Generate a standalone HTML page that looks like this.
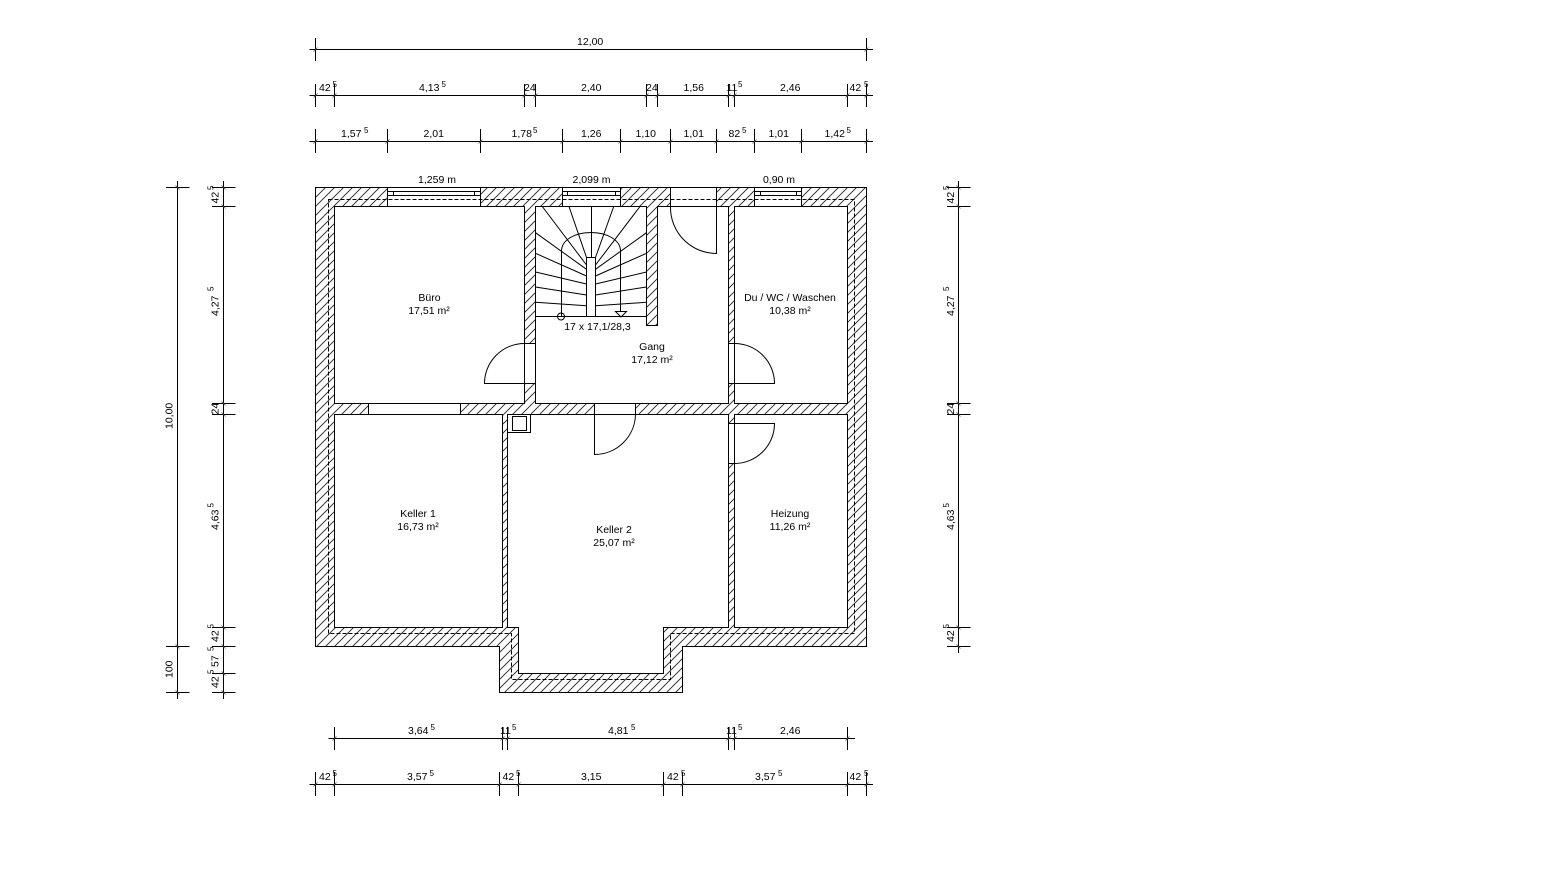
<!DOCTYPE html>
<html>
<head>
<meta charset="utf-8">
<style>
html,body{margin:0;padding:0;background:#fff;width:1566px;height:893px;overflow:hidden}
svg{display:block}
text{font-family:"Liberation Sans",Arial,sans-serif;font-size:10.5px;fill:#000}
.s{font-size:8px}
.m{text-anchor:middle}
</style>
</head>
<body>
<svg width="1566" height="893" viewBox="0 0 1566 893" xmlns="http://www.w3.org/2000/svg">
<defs>
<pattern id="h" width="9" height="9" patternUnits="userSpaceOnUse">
<path d="M-1 1L1 -1M0 9L9 0M8 10L10 8" stroke="#222" stroke-width="0.9" fill="none"/>
</pattern>
</defs>
<rect width="1566" height="893" fill="#fff"/>

<!-- walls -->
<path d="M315.5 187.5H866.5V646.5H682.5V692.5H499.5V646.5H315.5Z" fill="url(#h)"/>

<!-- openings -->
<g fill="#fff" stroke="none">
<rect x="387.5" y="187.5" width="93" height="19"/>
<rect x="562.5" y="187.5" width="58" height="19"/>
<rect x="754.5" y="187.5" width="47" height="19"/>
<rect x="670.5" y="187.5" width="46" height="19"/>
<rect x="524.5" y="343.5" width="11" height="40"/>
<rect x="728.5" y="343.5" width="6" height="40"/>
<rect x="728.5" y="423.5" width="6" height="40"/>
<rect x="594.5" y="403.5" width="41" height="11"/>
<rect x="368.5" y="403.5" width="92" height="11"/>
</g>

<path d="M315.5 187.5H866.5V646.5H682.5V692.5H499.5V646.5H315.5Z" fill="none" stroke="#000"/>

<!-- rooms -->
<g fill="#fff" stroke="#000">
<rect x="334.5" y="206.5" width="190" height="197"/>
<path d="M535.5 206.5H646.5V325.5H657.5V206.5H728.5V403.5H535.5Z"/>
<rect x="734.5" y="206.5" width="113" height="197"/>
<rect x="334.5" y="414.5" width="168" height="213"/>
<path d="M507.5 414.5H728.5V627.5H663.5V673.5H518.5V627.5H507.5Z"/>
<rect x="734.5" y="414.5" width="113" height="213"/>
<rect x="507.5" y="414.5" width="23" height="18"/>
<rect x="512.5" y="416.5" width="14" height="14"/>
</g>

<g fill="none" stroke="#000" stroke-width="1">
<!-- dashed line -->
<path d="M328.5 199.5H854.5V633.5H670.5V679.5H511.5V633.5H328.5Z" stroke-dasharray="4 2"/>

<!-- windows -->
<path d="M387.5 187.5V206.5M480.5 187.5V206.5M387.5 191.5H480.5M387.5 195.5H480.5M393.5 191.5V195.5M474.5 191.5V195.5"/>
<path d="M562.5 187.5V206.5M620.5 187.5V206.5M562.5 191.5H620.5M562.5 195.5H620.5M567.5 191.5V195.5M615.5 191.5V195.5"/>
<path d="M754.5 187.5V206.5M801.5 187.5V206.5M754.5 191.5H801.5M754.5 195.5H801.5M760.5 191.5V195.5M796.5 191.5V195.5"/>

<!-- doors -->
<path d="M670.5 187.5V207.5A46 46 0 0 0 716.5 253.5V187.5"/>
<path d="M535.5 343.5H524.5A40 40 0 0 0 484.5 383.5H535.5"/>
<path d="M728.5 343.5H734.5A40 40 0 0 1 774.5 383.5H728.5"/>
<path d="M728.5 463.5H734.5A40 40 0 0 0 774.5 423.5H728.5"/>
<path d="M594.5 403.5V454.5A41 41 0 0 0 635.5 414.5V403.5"/>
<path d="M368.5 403.5V414.5M460.5 403.5V414.5"/>
<path d="M524.5 343.5V383.5M535.5 343.5V383.5M728.5 343.5V383.5M734.5 343.5V383.5M728.5 423.5V463.5M734.5 423.5V463.5"/>

<!-- stairs -->
<path d="M535.5 316.5H646.5"/>
<path d="M535.5 302.3L586.5 305.7M535.5 287L586.5 295M535.5 272L586.5 284M535.5 253.3L586.5 276M535.5 232.7L586.5 269.3M542.3 206.5L586.5 265M569 206.5L586.5 257.5M591.5 206.5V257.5M613.7 206.5L595.5 257.5M640 206.5L595.5 265M646.5 232.7L595.5 269.3M646.5 253.3L595.5 276M646.5 272L595.5 284M646.5 287L595.5 295M646.5 302.3L595.5 305.7"/>
<path d="M561.5 316.5V251C561.5 240 575 232.5 591 232.5S620.5 240 620.5 251V316.5"/>
<rect x="586.5" y="257.5" width="9" height="59" fill="#fff"/>
<circle cx="561" cy="316.5" r="3.5"/>
<path d="M615.5 311.5H626.5L621 317Z" fill="#fff"/>

<!-- dims top -->
<path d="M309.5 49.5H873M315.5 38V61M866.5 38V61"/>
<path d="M309.5 95.5H873M315.5 84V107M334.5 84V107M524.5 84V107M535.5 84V107M646.5 84V107M657.5 84V107M728.5 84V107M734.5 84V107M847.5 84V107M866.5 84V107"/>
<path d="M309.5 141.5H873M315.5 129V153M387.5 129V153M480.5 129V153M562.5 129V153M620.5 129V153M670.5 129V153M716.5 129V153M754.5 129V153M801.5 129V153M866.5 129V153"/>

<!-- dims bottom -->
<path d="M328.5 738.5H855M334.5 727V750M502.5 727V750M507.5 727V750M728.5 727V750M734.5 727V750M847.5 727V750"/>
<path d="M309.5 784.5H873M315.5 772V796M334.5 772V796M499.5 772V796M518.5 772V796M663.5 772V796M682.5 772V796M847.5 772V796M866.5 772V796"/>

<!-- dims left -->
<path d="M177.5 181V699M166 187.5H189.5M166 646.5H189.5M166 692.5H189.5"/>
<path d="M223.5 181V699M212 187.5H235.5M212 206.5H235.5M212 403.5H235.5M212 414.5H235.5M212 627.5H235.5M212 646.5H235.5M212 673.5H235.5M212 692.5H235.5"/>

<!-- dims right -->
<path d="M958.5 181V653M947 187.5H970.5M947 206.5H970.5M947 403.5H970.5M947 414.5H970.5M947 627.5H970.5M947 646.5H970.5"/>
</g>

<!-- small tick diagonals -->
<g fill="none" stroke="#555" stroke-width="0.8">
<path d="M313.5 51.5l4 -4M864.5 51.5l4 -4"/>
<path d="M313.5 97.5l4 -4M332.5 97.5l4 -4M522.5 97.5l4 -4M533.5 97.5l4 -4M644.5 97.5l4 -4M655.5 97.5l4 -4M726.5 97.5l4 -4M732.5 97.5l4 -4M845.5 97.5l4 -4M864.5 97.5l4 -4"/>
<path d="M313.5 143.5l4 -4M385.5 143.5l4 -4M478.5 143.5l4 -4M560.5 143.5l4 -4M618.5 143.5l4 -4M668.5 143.5l4 -4M714.5 143.5l4 -4M752.5 143.5l4 -4M799.5 143.5l4 -4M864.5 143.5l4 -4"/>
<path d="M332.5 740.5l4 -4M500.5 740.5l4 -4M505.5 740.5l4 -4M726.5 740.5l4 -4M732.5 740.5l4 -4M845.5 740.5l4 -4"/>
<path d="M313.5 786.5l4 -4M332.5 786.5l4 -4M497.5 786.5l4 -4M516.5 786.5l4 -4M661.5 786.5l4 -4M680.5 786.5l4 -4M845.5 786.5l4 -4M864.5 786.5l4 -4"/>
<path d="M175.5 185.5l4 4M175.5 644.5l4 4M175.5 690.5l4 4"/>
<path d="M221.5 185.5l4 4M221.5 204.5l4 4M221.5 401.5l4 4M221.5 412.5l4 4M221.5 625.5l4 4M221.5 644.5l4 4M221.5 671.5l4 4M221.5 690.5l4 4"/>
<path d="M956.5 185.5l4 4M956.5 204.5l4 4M956.5 401.5l4 4M956.5 412.5l4 4M956.5 625.5l4 4M956.5 644.5l4 4"/>
</g>

<!-- room labels -->
<text class="m" x="429.5" y="301">Büro</text><text class="m" x="429" y="314">17,51 m²</text>
<text class="m" x="790" y="301">Du / WC / Waschen</text><text class="m" x="790" y="314">10,38 m²</text>
<text class="m" x="652" y="350">Gang</text><text class="m" x="652" y="363">17,12 m²</text>
<text class="m" x="418" y="517">Keller 1</text><text class="m" x="418" y="530">16,73 m²</text>
<text class="m" x="614" y="533">Keller 2</text><text class="m" x="614" y="546">25,07 m²</text>
<text class="m" x="790" y="517">Heizung</text><text class="m" x="790" y="530">11,26 m²</text>
<text class="m" x="437" y="183">1,259 m</text>
<text class="m" x="591.5" y="183">2,099 m</text>
<text class="m" x="779" y="183">0,90 m</text>
<text class="m" x="597.5" y="330">17 x 17,1/28,3</text>

<!-- top labels -->
<text x="577" y="45">12,00</text>

<text x="319" y="91">42</text><text class="s" x="332.5" y="87">5</text>
<text x="419" y="91">4,13</text><text class="s" x="441.5" y="87">5</text>
<text x="524" y="91">24</text>
<text x="581" y="91">2,40</text>
<text x="646" y="91">24</text>
<text x="683.5" y="91">1,56</text>
<text x="726.5" y="91">11</text><text class="s" x="738" y="87">5</text>
<text x="780" y="91">2,46</text>
<text x="849.5" y="91">42</text><text class="s" x="864" y="87">5</text>

<text x="341" y="137">1,57</text><text class="s" x="364" y="133">5</text>
<text x="423.5" y="137">2,01</text>
<text x="511.5" y="137">1,78</text><text class="s" x="533" y="133">5</text>
<text x="581" y="137">1,26</text>
<text x="635.5" y="137">1,10</text>
<text x="683.5" y="137">1,01</text>
<text x="728.5" y="137">82</text><text class="s" x="742" y="133">5</text>
<text x="768.5" y="137">1,01</text>
<text x="824.5" y="137">1,42</text><text class="s" x="846.5" y="133">5</text>

<!-- bottom labels -->
<text x="408" y="734">3,64</text><text class="s" x="430.5" y="730">5</text>
<text x="500" y="734">11</text><text class="s" x="512" y="730">5</text>
<text x="608" y="734">4,81</text><text class="s" x="631" y="730">5</text>
<text x="726" y="734">11</text><text class="s" x="738" y="730">5</text>
<text x="780" y="734">2,46</text>

<text x="319" y="780">42</text><text class="s" x="332.5" y="776">5</text>
<text x="407" y="780">3,57</text><text class="s" x="429.5" y="776">5</text>
<text x="502.5" y="780">42</text><text class="s" x="516" y="776">5</text>
<text x="581" y="780">3,15</text>
<text x="667" y="780">42</text><text class="s" x="681" y="776">5</text>
<text x="755" y="780">3,57</text><text class="s" x="778" y="776">5</text>
<text x="849.5" y="780">42</text><text class="s" x="864" y="776">5</text>

<!-- left labels -->
<text transform="translate(172.5 429) rotate(-90)">10,00</text>
<text transform="translate(172.5 678) rotate(-90)">100</text>
<text transform="translate(218.5 203.5) rotate(-90)">42</text><text class="s" transform="translate(213.5 190) rotate(-90)">5</text>
<text transform="translate(218.5 316) rotate(-90)">4,27</text><text class="s" transform="translate(213.5 291) rotate(-90)">5</text>
<text transform="translate(218.5 414.5) rotate(-90)">24</text>
<text transform="translate(218.5 530) rotate(-90)">4,63</text><text class="s" transform="translate(213.5 507.5) rotate(-90)">5</text>
<text transform="translate(218.5 642) rotate(-90)">42</text><text class="s" transform="translate(213.5 628.5) rotate(-90)">5</text>
<text transform="translate(218.5 667) rotate(-90)">57</text><text class="s" transform="translate(213.5 651) rotate(-90)">5</text>
<text transform="translate(218.5 688) rotate(-90)">42</text><text class="s" transform="translate(213.5 674) rotate(-90)">5</text>

<!-- right labels -->
<text transform="translate(954 203.5) rotate(-90)">42</text><text class="s" transform="translate(949 190) rotate(-90)">5</text>
<text transform="translate(954 316) rotate(-90)">4,27</text><text class="s" transform="translate(949 291) rotate(-90)">5</text>
<text transform="translate(954 414.5) rotate(-90)">24</text>
<text transform="translate(954 530) rotate(-90)">4,63</text><text class="s" transform="translate(949 507.5) rotate(-90)">5</text>
<text transform="translate(954 642) rotate(-90)">42</text><text class="s" transform="translate(949 628.5) rotate(-90)">5</text>
</svg>
</body>
</html>
